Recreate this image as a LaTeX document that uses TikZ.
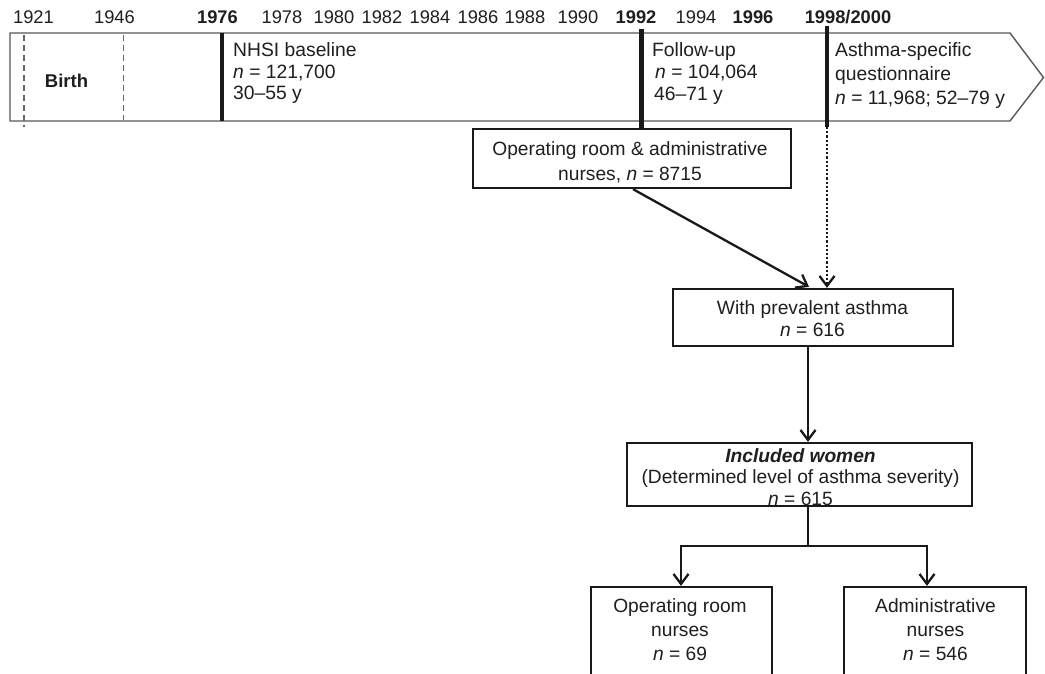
\documentclass[tikz,border=0pt]{standalone}
\usepackage{fontspec}
\setmainfont{Liberation Sans}
\usetikzlibrary{arrows.meta,calc}
\begin{document}
\begin{tikzpicture}[x=1pt,y=-1pt,
  yr/.style={font=\fontsize{18.3}{22}\selectfont, inner sep=0pt, text=black!88, anchor=base},
  byr/.style={yr, font=\fontsize{18.3}{22}\selectfont\bfseries},
  tltxt/.style={font=\fontsize{19.3}{#1}\selectfont, inner sep=0pt, text=black!88,
    anchor=north west, align=left},
  boxtxt/.style={font=\fontsize{19.2}{#1}\selectfont, inner sep=0pt, text=black!88,
    anchor=north, align=center},
  box/.style={draw=black!90, line width=2.3pt, inner sep=0pt},
  band/.style={draw=black!65, line width=1.4pt},
  tick/.style={draw=black!90, line width=4.5pt},
  dashline/.style={draw=black!60, line width=1.1pt, dash pattern=on 6pt off 4pt},
  conn/.style={draw=black!90, line width=2.3pt,
    -{Straight Barb[length=10pt,width=15pt,line width=2.3pt]}},
  plain/.style={draw=black!90, line width=2.3pt},
  dotconn/.style={conn, dash pattern=on 2.2pt off 2pt}
]
\clip (0,0) rectangle (1045,674);
\fill[white] (0,0) rectangle (1045,674);

% years
\node[yr]  (y1921) at (33.5,24) {1921};
\node[yr]  (y1946) at (114.5,24) {1946};
\node[byr] (y1976) at (217.5,24) {1976};
\node[yr]  (y1978) at (282,24) {1978};
\node[yr]  (y1980) at (334,24) {1980};
\node[yr]  (y1982) at (382,24) {1982};
\node[yr]  (y1984) at (430,24) {1984};
\node[yr]  (y1986) at (478,24) {1986};
\node[yr]  (y1988) at (525,24) {1988};
\node[yr]  (y1990) at (578,24) {1990};
\node[byr] (y1992) at (636,24) {1992};
\node[yr]  (y1994) at (696,24) {1994};
\node[byr] (y1996) at (753,24) {1996};
\node[byr] (y1998) at (848,24) {1998/2000};

% timeline band
\path[band] (10,33) -- (1010,33) -- (1043.5,77.5) -- (1010,121) -- (10,121) -- cycle;
\draw[dashline] (24,35) -- (24,127);
\draw[dashline] (123.5,35) -- (123.5,120);
\node[yr, font=\fontsize{18.5}{22}\selectfont\bfseries] (birth) at (66.5,88) {Birth};

% ticks
\draw[tick] (222,33) -- (222,121);

% timeline texts
\node[tltxt=21.5] (base) at (233,42.5)
  {NHSI baseline\\\textit{n} = 121,700\\30--55 y};
\node[tltxt=22] (follow) at (652,42.5)
  {Follow-up\\\hspace*{3pt}\textit{n} = 104,064\\\hspace*{2pt}46--71 y};
\node[tltxt=24] (asq) at (835,42.5)
  {Asthma-specific\\questionnaire\\\textit{n} = 11,968; 52--79 y};

% boxes
\node[box, minimum width=318pt, minimum height=59pt] (b1) at (632,158.5) {};
\node[boxtxt=25] (b1t) at (630,141.5)
  {Operating room \& administrative\\nurses, \textit{n} = 8715};
\node[box, minimum width=280pt, minimum height=57pt] (b2) at (813,317.5) {};
\node[boxtxt=22] (b2t) at (812.5,300.5)
  {With prevalent asthma\\\textit{n} = 616};
\node[box, minimum width=345pt, minimum height=63pt] (b3) at (799.5,474.5) {};
\node[boxtxt=21.5] (b3t) at (800.5,448)
  {\textbf{\textit{Included women}}\\(Determined level of asthma severity)\\\textit{n} = 615};
\node[box, minimum width=181pt, minimum height=88pt] (b4) at (681.5,631) {};
\node[boxtxt=24] (b4t) at (680,598.5)
  {Operating room\\nurses\\\textit{n} = 69};
\node[box, minimum width=182pt, minimum height=88pt] (b5) at (935,631) {};
\node[boxtxt=24] (b5t) at (935.5,598.5)
  {Administrative\\nurses\\\textit{n} = 546};

% connectors
\coordinate (t92) at (641.5,29);
\coordinate (t98) at (827,26);
\coordinate (t98b) at (827,127);
\coordinate (mid) at (808,0);
\coordinate (split) at (808,546);
\coordinate (lft) at (681,546);
\coordinate (rgt) at (927,546);

\draw[tick] (t92) -- (t92 |- b1.north);
\draw[tick] (t98) -- (t98b);
\draw[dotconn] (t98b) -- (t98 |- b2.north);
\draw[conn] ($(b1.south)+(1,0)$) -- ($(b2.north)+(-4,-1)$);
\draw[conn] (b2.south -| mid) -- (b3.north -| mid);
\draw[plain] (b3.south -| mid) -- (split);
\draw[plain, line cap=rect] (lft) -- (rgt);
\draw[conn] (lft) -- (lft |- b4.north);
\draw[conn] (rgt) -- (rgt |- b5.north);
\end{tikzpicture}
\end{document}
